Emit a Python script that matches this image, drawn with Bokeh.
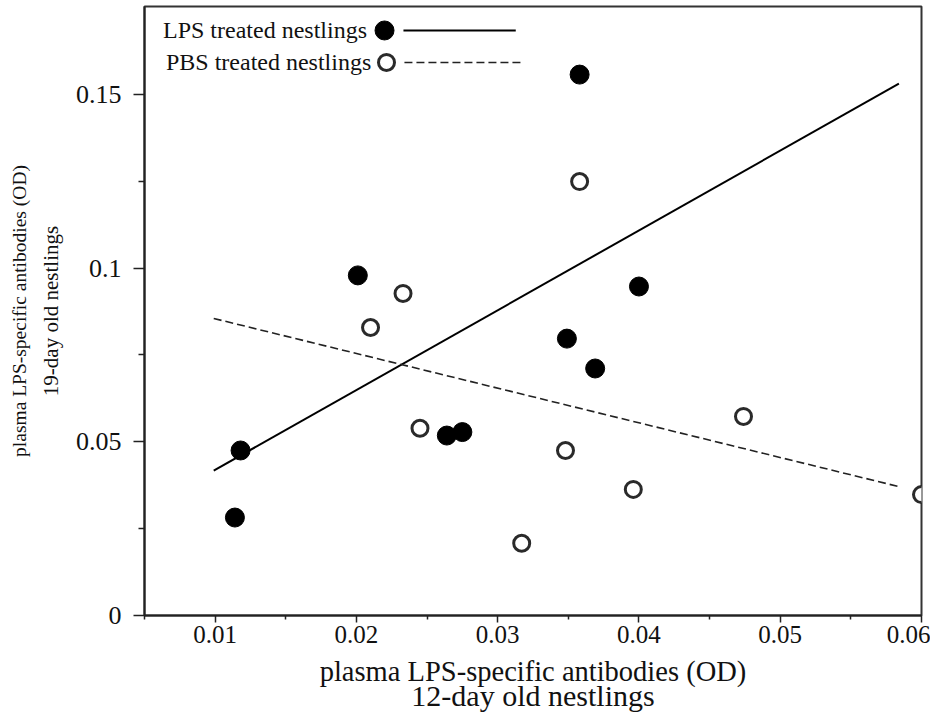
from bokeh.plotting import figure
from bokeh.models import FixedTicker, NumeralTickFormatter, Range1d, LinearAxis
from bokeh.core.properties import value
from bokeh.embed import file_html
from bokeh.resources import INLINE

# ---- data ----
lps_x = [0.0114, 0.0118, 0.0201, 0.0264, 0.0275, 0.0349, 0.0358, 0.0369, 0.0400]
lps_y = [0.0282, 0.0475, 0.0979, 0.0518, 0.0528, 0.0797, 0.1557, 0.0711, 0.0947]

pbs_x = [0.0210, 0.0233, 0.0245, 0.0317, 0.0348, 0.0358, 0.0396, 0.0474, 0.0600]
pbs_y = [0.0829, 0.0927, 0.0539, 0.0208, 0.0475, 0.1249, 0.0363, 0.0573, 0.0348]

fit_x = [0.0099, 0.0584]
lps_fit_y = [0.0417, 0.1531]
pbs_fit_y = [0.0855, 0.0371]

x_ticks = [0.01, 0.02, 0.03, 0.04, 0.05, 0.06]
x_minor = [0.005, 0.015, 0.025, 0.035, 0.045, 0.055]
y_ticks = [0.0, 0.05, 0.1, 0.15]
y_minor = [0.025, 0.075, 0.125]

series_names = ["LPS treated nestlings", "PBS treated nestlings"]
x_title_lines = ["plasma LPS-specific antibodies (OD)", "12-day old nestlings"]
y_title_lines = ["plasma LPS-specific antibodies (OD)", "19-day old nestlings"]

FONT = "Liberation Serif"

p = figure(width=930, height=717, output_backend="svg", toolbar_location=None,
           x_range=Range1d(0.005, 0.06), y_range=Range1d(0.0, 0.1753),
           min_border_left=144, min_border_right=9, min_border_top=6,
           min_border_bottom=102)
p.grid.visible = False
p.outline_line_color = "#333333"
p.outline_line_width = 2
p.background_fill_color = "white"
p.border_fill_color = "white"

# main axes
p.xaxis.ticker = FixedTicker(ticks=x_ticks, minor_ticks=x_minor)
p.yaxis.ticker = FixedTicker(ticks=y_ticks, minor_ticks=y_minor)
p.xaxis.formatter = NumeralTickFormatter(format="0.[00]")
p.yaxis.formatter = NumeralTickFormatter(format="0.[00]")
for ax in (p.xaxis[0], p.yaxis[0]):
    ax.axis_line_width = 2
    ax.axis_line_color = "#222222"
    ax.major_tick_line_color = "#222222"
    ax.minor_tick_line_color = "#222222"
    ax.major_tick_line_width = 1.5
    ax.minor_tick_line_width = 1.5
    ax.major_tick_in = 0
    ax.minor_tick_in = 0
    ax.major_label_text_font = FONT
    ax.major_label_text_color = "#111111"
    ax.axis_label_text_font = FONT
    ax.axis_label_text_font_style = "normal"
    ax.axis_label_text_color = "#111111"

p.xaxis.major_tick_out = 7
p.xaxis.minor_tick_out = 4
p.yaxis.major_tick_out = 11
p.yaxis.minor_tick_out = 6
p.xaxis.major_label_text_font_size = "25px"
p.yaxis.major_label_text_font_size = "26px"
p.xaxis.major_label_standoff = 3
p.yaxis.major_label_standoff = 12

# first title line on the main x axis, second on the main y axis (next to frame)
p.xaxis.axis_label = x_title_lines[0]
p.xaxis.axis_label_text_font_size = "28.5px"
p.xaxis.axis_label_standoff = 10
p.yaxis.axis_label = y_title_lines[1]
p.yaxis.axis_label_text_font_size = "21px"
p.yaxis.axis_label_standoff = 10


def title_axis(text, size, standoff):
    ax = LinearAxis(ticker=FixedTicker(ticks=[]), axis_line_color=None,
                    major_tick_out=0, minor_tick_out=0, major_tick_in=0,
                    minor_tick_in=0, major_label_standoff=0,
                    major_label_text_font_size="0px",
                    axis_label=text, axis_label_text_font=FONT,
                    axis_label_text_font_size=size,
                    axis_label_text_font_style="normal",
                    axis_label_text_color="#111111",
                    axis_label_standoff=standoff)
    return ax


p.add_layout(title_axis(x_title_lines[1], "30px", -11), "below")
p.add_layout(title_axis(y_title_lines[0], "19.5px", 6), "left")

# regression lines
p.line(fit_x, lps_fit_y, line_color="black", line_width=2)
p.line(fit_x, pbs_fit_y, line_color="#222222", line_width=1.6, line_dash="8 4")

# points
p.scatter(pbs_x, pbs_y, marker="circle", size=16, fill_color="white",
          line_color="#2a2a2a", line_width=3)
p.scatter(lps_x, lps_y, marker="circle", size=19, fill_color="black",
          line_color="black")

# manual legend (text, marker, line) in data units
leg_rows_y = [0.1684, 0.1592]
leg_text_x = [0.00631, 0.00652]
leg_marker_x = [0.02199, 0.02213]
leg_line_x0 = [0.02333, 0.02340]
leg_line_x1 = [0.03128, 0.03163]

p.text(x=leg_text_x, y=leg_rows_y, text=series_names,
       text_font=value(FONT), text_font_size="24px", text_color="#111111",
       text_align="left", text_baseline="middle")
p.scatter([leg_marker_x[0]], [leg_rows_y[0]], marker="circle", size=19,
          fill_color="black", line_color="black")
p.scatter([leg_marker_x[1]], [leg_rows_y[1]], marker="circle", size=16,
          fill_color="white", line_color="#2a2a2a", line_width=3)
p.line([leg_line_x0[0], leg_line_x1[0]], [leg_rows_y[0], leg_rows_y[0]],
       line_color="black", line_width=2)
p.line([leg_line_x0[1], leg_line_x1[1]], [leg_rows_y[1], leg_rows_y[1]],
       line_color="#222222", line_width=1.6, line_dash="8 4")

open("out.html", "w").write(file_html(p, INLINE))
